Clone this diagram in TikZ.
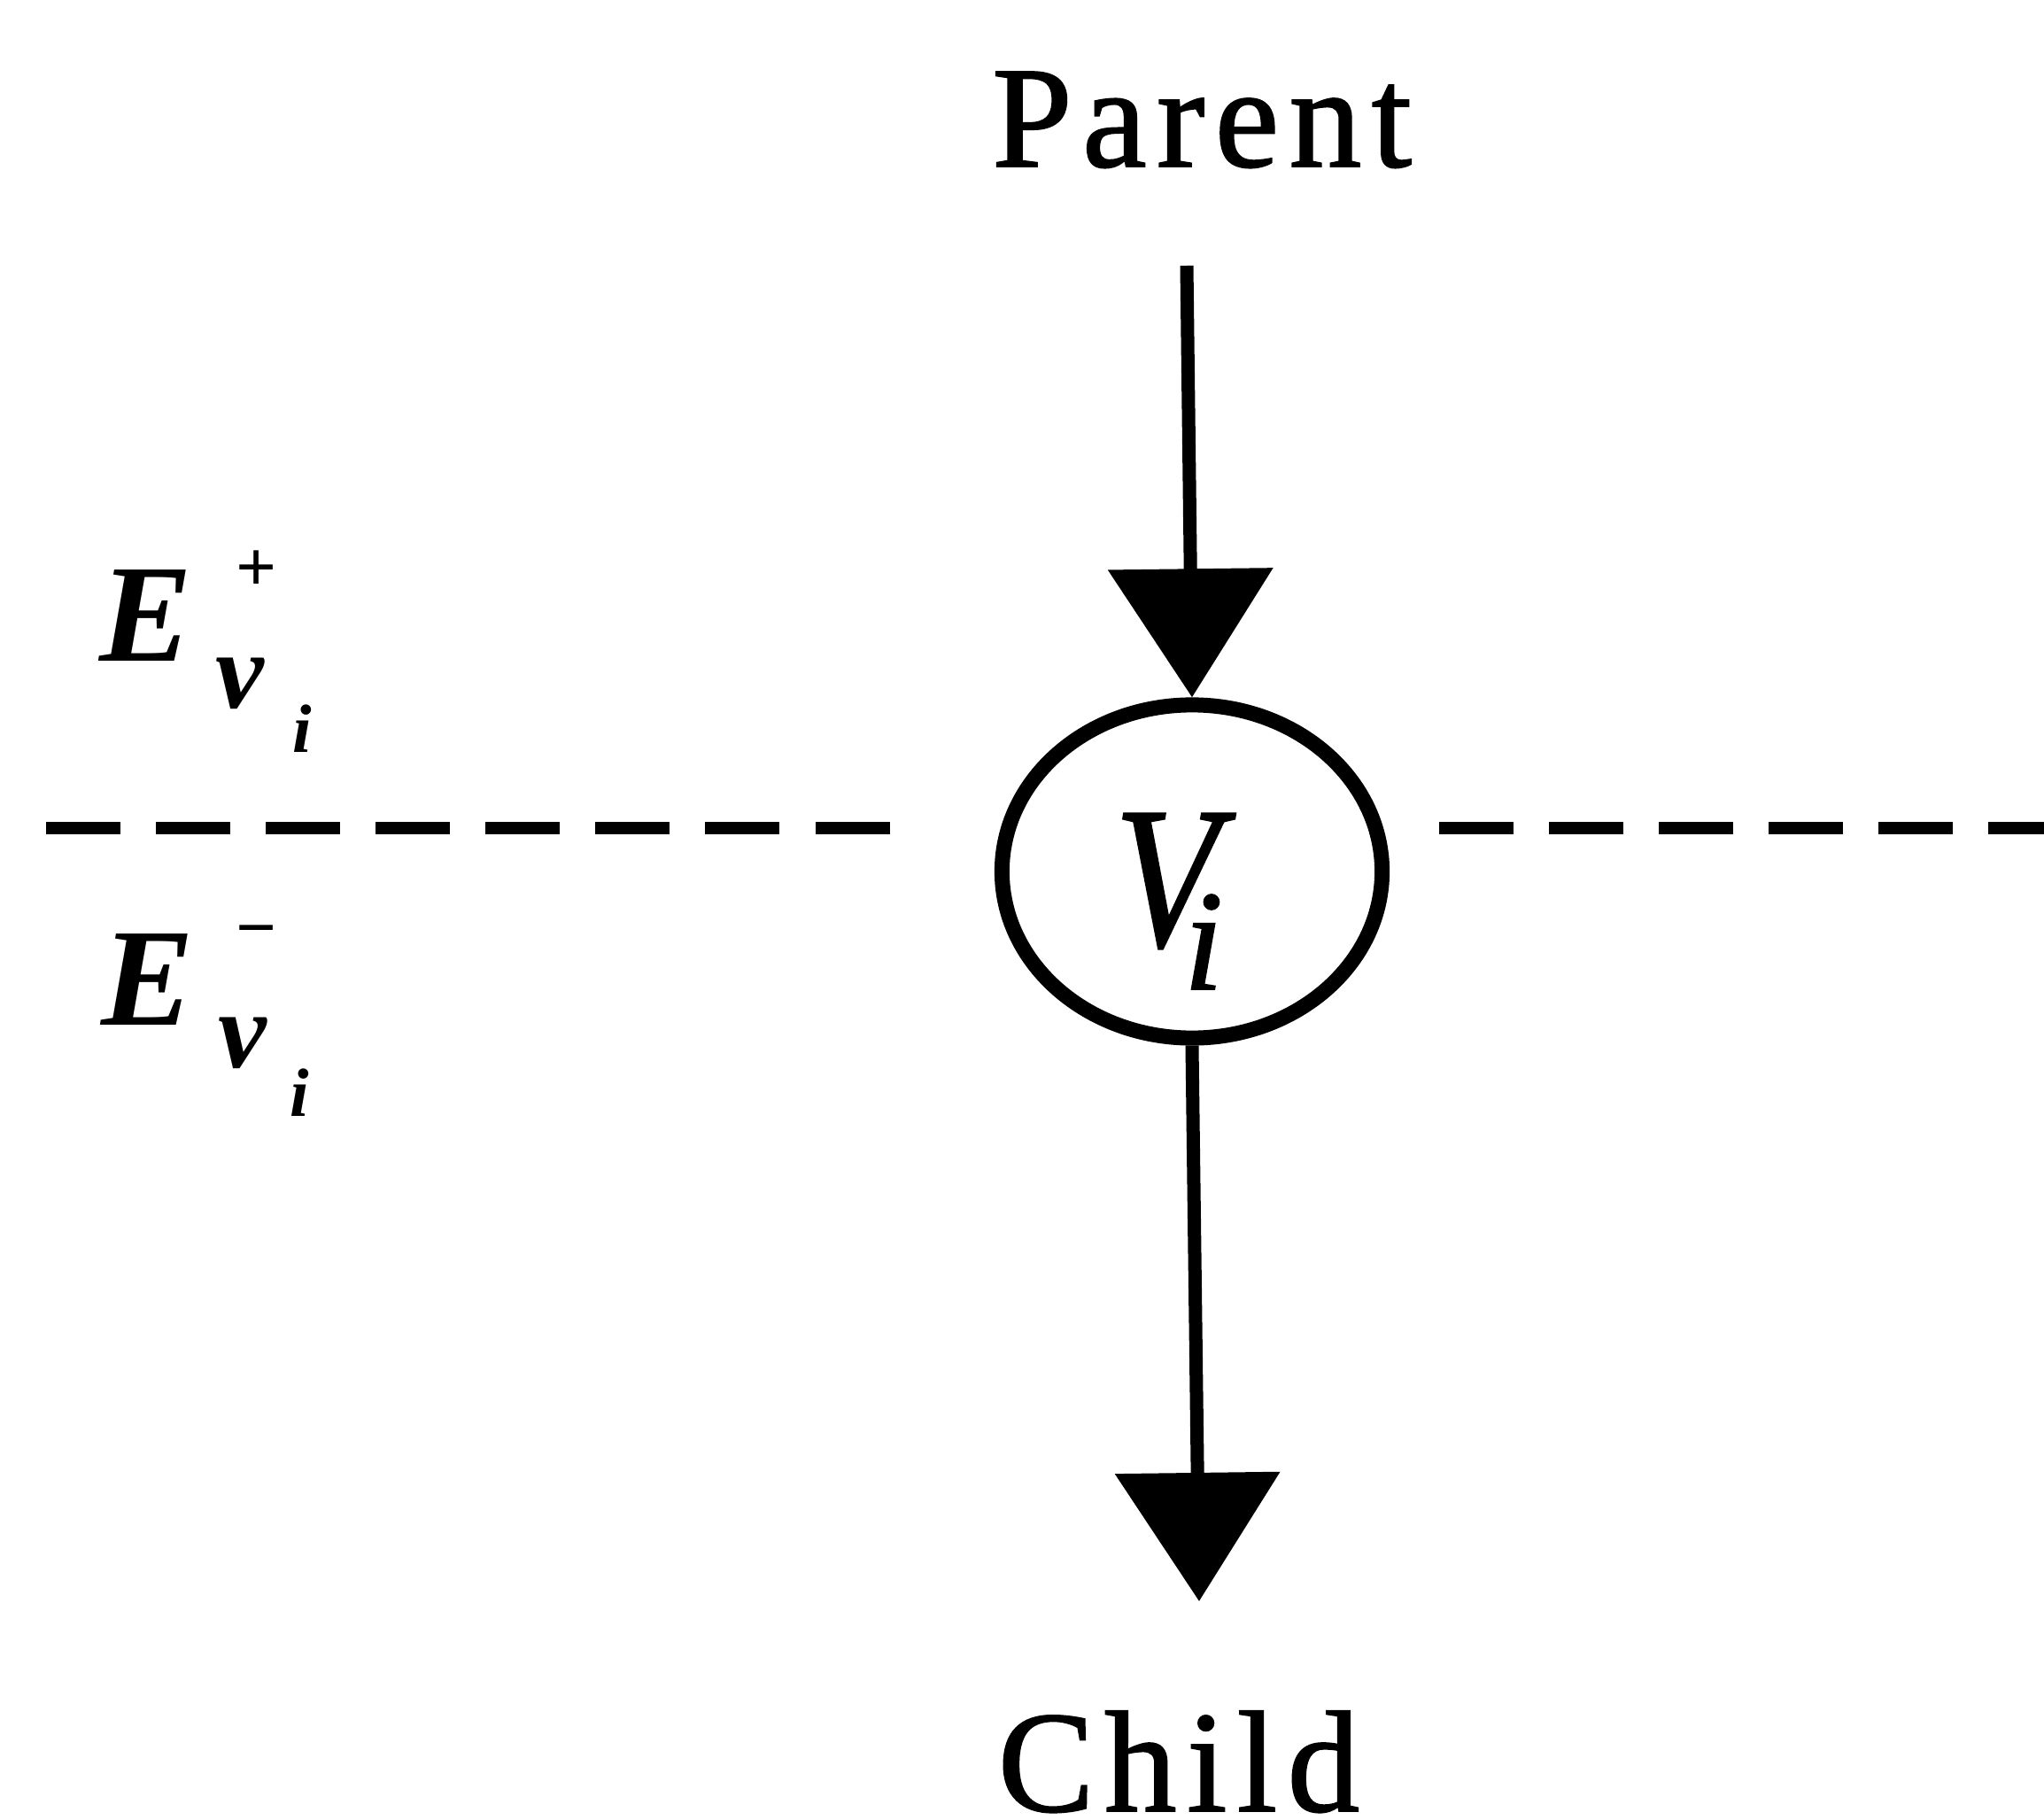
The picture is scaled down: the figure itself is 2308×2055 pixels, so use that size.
\documentclass[tikz,border=0pt]{standalone}
\usepackage{graphicx}
\usepackage{fontspec}
\setmainfont{Liberation Serif}
\newfontfamily\lblfont{Liberation Serif}[LetterSpace=7, FakeBold=1.2]
\newfontfamily\vfont{Liberation Serif}[FakeBold=1.0]
\usetikzlibrary{arrows.meta,shapes.geometric}
\begin{document}
\begin{tikzpicture}[x=0.01cm,y=-0.01cm,
  conn/.style={line width=0.15cm, -{Triangle[length=1.45cm,width=1.83cm]}},
  sepline/.style={line width=0.14cm, dash pattern=on 0.84cm off 0.40cm},
  lbl/.style={inner sep=0pt, outer sep=0pt},
  bigtext/.style={lbl, font=\lblfont\fontsize{46.4}{50}\selectfont},
  ebig/.style={lbl, font=\fontsize{44.7}{48}\selectfont\bfseries\itshape},
  esign/.style={lbl, font=\fontsize{23}{25}\selectfont\bfseries},
  ev/.style={lbl, font=\fontsize{35}{38}\selectfont\bfseries\itshape},
  ei/.style={lbl, font=\fontsize{22}{24}\selectfont\bfseries\itshape}]
\useasboundingbox (0,0) rectangle (2308,2055);

% texts top and bottom
\node[bigtext, anchor=base] (parent) at (1357,188) {Parent};
\node[bigtext, anchor=base] (child) at (1331,2045) {Child};

% vertex
\node[draw, ellipse, line width=0.17cm, minimum width=4.29cm, minimum height=3.76cm, inner sep=0pt] (vi) at (1346,984) {};
\node[lbl, anchor=base west] (vilabel) at (1258,1068)
  {\vfont\fontsize{64.9}{70}\selectfont\itshape\scalebox{0.85}[1]{V}\kern-0.40cm\raisebox{-0.49cm}{\fontsize{46}{50}\selectfont i}};

% connectors
\coordinate (ptop) at (1340,300);
\coordinate (cend) at (1354,1808);
\draw[conn] (ptop) -- (vi.north);
\draw[conn] (vi.south) -- (cend);

% dashed separator
\coordinate (dl0) at (52,935);
\coordinate (dl1) at (1008,935);
\coordinate (dr0) at (1625,935);
\coordinate (dr1) at (2308,935);
\draw[sepline] (dl0) -- (dl1);
\draw[sepline] (dr0) -- (dr1);

% E^+_{v_i}
\node[ebig, anchor=base west] (eplus) at (112,747) {E};
\node[esign, anchor=north] (eplussign) at (290,622) {+};
\node[ev, anchor=base west] (eplusv) at (243,800) {v};
\node[ei, anchor=base west] (eplusi) at (330,850) {i};

% E^-_{v_i}
\node[ebig, anchor=base west] (eminus) at (114,1157) {E};
\node[esign, anchor=north] (eminussign) at (290,1045) {−};
\node[ev, anchor=base west] (eminusv) at (246,1205) {v};
\node[ei, anchor=base west] (eminusi) at (327,1260) {i};
\end{tikzpicture}
\end{document}
